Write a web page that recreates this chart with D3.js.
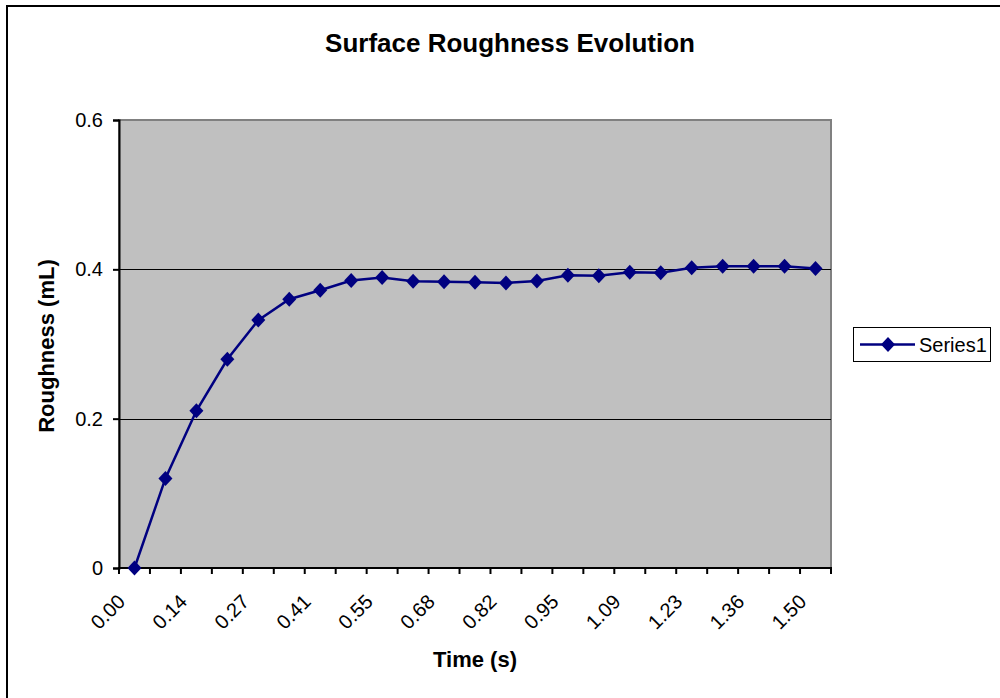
<!DOCTYPE html>
<html>
<head>
<meta charset="utf-8">
<script src="https://cdn.jsdelivr.net/npm/d3@7"></script>
<style>
  html, body { margin: 0; padding: 0; background: #fff; }
  svg { display: block; font-family: Arial, "Liberation Sans", sans-serif; }
</style>
</head>
<body>
<svg id="chart" width="1000" height="698"></svg>
<script>
// Sample times (s) along the category axis
const times = ["0.00","0.07","0.14","0.20","0.27","0.34","0.41","0.48","0.55","0.61","0.68","0.75",
               "0.82","0.89","0.95","1.02","1.09","1.16","1.23","1.30","1.36","1.43","1.50"];
// Measured roughness (mL)
const roughness = [0, 0.120, 0.2105, 0.2796, 0.332, 0.360, 0.372, 0.385, 0.389, 0.384, 0.3835, 0.3826,
                   0.3817, 0.3844, 0.392, 0.3915, 0.396, 0.3955, 0.402, 0.404, 0.404, 0.404, 0.401];
const yTicks = [0, 0.2, 0.4, 0.6];
const gridValues = [0.2, 0.4];
const seriesName = "Series1";

const FONT = "Arial, 'Liberation Sans', sans-serif";
const svg = d3.select("#chart");
const plot = { left: 119, right: 831, top: 120, bottom: 568 };

const x = d3.scaleBand().domain(times).range([plot.left, plot.right]).padding(0);
const y = d3.scaleLinear().domain([0, 0.6]).range([plot.bottom, plot.top]);

// Outer chart frame
svg.append("rect").attr("x", 7).attr("y", 6).attr("width", 1010).attr("height", 710)
  .attr("fill", "#fff").attr("stroke", "#000").attr("stroke-width", 2);

// Title
svg.append("text").attr("x", 510).attr("y", 52).attr("text-anchor", "middle")
  .attr("font-size", 26).attr("font-weight", "bold").text("Surface Roughness Evolution");

// Plot background
svg.append("rect").attr("x", plot.left).attr("y", plot.top)
  .attr("width", plot.right - plot.left).attr("height", plot.bottom - plot.top)
  .attr("fill", "#c0c0c0").attr("stroke", "#808080").attr("stroke-width", 2);

// Gridlines
svg.append("g").selectAll("line").data(gridValues).join("line")
  .attr("x1", plot.left).attr("x2", plot.right)
  .attr("y1", d => Math.round(y(d)) + 0.5).attr("y2", d => Math.round(y(d)) + 0.5)
  .attr("stroke", "#000").attr("stroke-width", 1);

// Y axis
const yAxis = svg.append("g").attr("transform", `translate(${plot.left},0)`)
  .call(d3.axisLeft(y).tickValues(yTicks).tickFormat(d => String(d)).tickSize(6).tickPadding(10));
yAxis.select(".domain").attr("stroke", "#000").attr("stroke-width", 2);
yAxis.selectAll(".tick line").attr("stroke", "#000").attr("stroke-width", 2);
yAxis.selectAll("text").attr("font-size", 20).attr("fill", "#000").attr("font-family", FONT);

// X axis: ticks on band boundaries, labels on every other category
const boundaries = times.map(t => x(t)).concat([x.range()[1]]);
const xg = svg.append("g");
xg.append("line").attr("x1", plot.left - 1).attr("x2", plot.right + 1)
  .attr("y1", plot.bottom).attr("y2", plot.bottom).attr("stroke", "#000").attr("stroke-width", 2);
xg.selectAll("line.tick").data(boundaries).join("line").attr("class", "tick")
  .attr("x1", d => d).attr("x2", d => d)
  .attr("y1", plot.bottom).attr("y2", plot.bottom + 6)
  .attr("stroke", "#000").attr("stroke-width", 2);
xg.selectAll("text").data(times.filter((t, i) => i % 2 === 0)).join("text")
  .attr("transform", d => `translate(${x(d) + x.bandwidth() / 2 - 8},${plot.bottom + 35}) rotate(-45)`)
  .attr("text-anchor", "end").attr("font-size", 20).attr("fill", "#000").text(d => d);

// Axis titles
svg.append("text").attr("transform", `translate(54,${(plot.top + plot.bottom) / 2 + 2}) rotate(-90)`)
  .attr("text-anchor", "middle").attr("font-size", 22).attr("font-weight", "bold").text("Roughness (mL)");
svg.append("text").attr("x", 475).attr("y", 667).attr("text-anchor", "middle")
  .attr("font-size", 22).attr("font-weight", "bold").text("Time (s)");

// Series line and diamond markers
const cx = d => x(d) + x.bandwidth() / 2;
const pts = times.map((t, i) => [cx(t), y(roughness[i])]);
svg.append("path").datum(pts).attr("d", d3.line())
  .attr("fill", "none").attr("stroke", "#000080").attr("stroke-width", 2.5);
const diamondPath = "M0,-7.5L7,0L0,7.5L-7,0Z";
svg.append("g").selectAll("path").data(pts).join("path")
  .attr("transform", d => `translate(${d[0]},${d[1]})`)
  .attr("d", diamondPath).attr("fill", "#000080");

// Legend
const lg = svg.append("g");
lg.append("rect").attr("x", 853.5).attr("y", 327.5).attr("width", 137).attr("height", 34)
  .attr("fill", "#fff").attr("stroke", "#000").attr("stroke-width", 1);
lg.append("line").attr("x1", 860).attr("x2", 915).attr("y1", 344.5).attr("y2", 344.5)
  .attr("stroke", "#000080").attr("stroke-width", 2.5);
lg.append("path").attr("transform", "translate(888,344.5)").attr("d", diamondPath).attr("fill", "#000080");
lg.append("text").attr("x", 919).attr("y", 352).attr("font-size", 20).text(seriesName);
</script>
</body>
</html>
